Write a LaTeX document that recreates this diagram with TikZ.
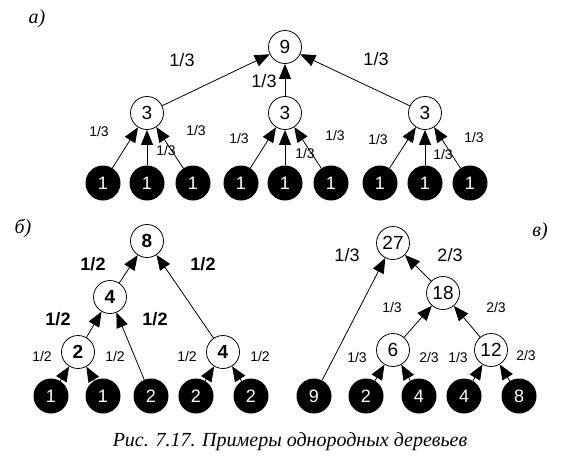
\documentclass[tikz,border=0pt]{standalone}
\usepackage{fontspec}
\setmainfont{Liberation Serif}
\setsansfont{Liberation Sans}
\usetikzlibrary{arrows.meta}

\begin{document}
\begin{tikzpicture}[x=1pt, y=-1pt, every node/.style={font=\sffamily},
 vert/.style={draw, circle, fill=white, minimum size=33pt, inner sep=0pt, line width=0.8pt, font=\sffamily\fontsize{19}{19}\selectfont},
 leaf/.style={circle, fill=black, text=white, minimum size=35pt, inner sep=0pt, font=\sffamily\fontsize{18}{18}\selectfont},
 arc/.style={-{Triangle[length=15pt,width=12pt]}, line width=0.8pt},
 big/.style={font=\sffamily\fontsize{18}{18}\selectfont},
 small/.style={font=\sffamily\fontsize{14}{14}\selectfont},
 tag/.style={font=\itshape\fontsize{20}{20}\selectfont}]
\useasboundingbox (0,0) rectangle (581,467);
% a)
\node[tag] (ta) at (37,19) {a)};
\node[vert] (a9) at (285,47) {9};
\node[vert] (a3l) at (147,113) {3};
\node[vert] (a3m) at (285,113) {3};
\node[vert] (a3r) at (425,113) {3};
\node[leaf] (a1) at (103,183) {1}; \node[leaf] (a2) at (147,183) {1}; \node[leaf] (a3) at (193,183) {1};
\node[leaf] (a4) at (241,183) {1}; \node[leaf] (a5) at (285,183) {1}; \node[leaf] (a6) at (331,183) {1};
\node[leaf] (a7) at (380,183) {1}; \node[leaf] (a8) at (425,183) {1}; \node[leaf] (a9l) at (470,183) {1};
\draw[arc] (a3l)--(a9); \draw[arc] (a3m)--(a9); \draw[arc] (a3r)--(a9);
\draw[arc] (a1)--(a3l); \draw[arc] (a2)--(a3l); \draw[arc] (a3)--(a3l);
\draw[arc] (a4)--(a3m); \draw[arc] (a5)--(a3m); \draw[arc] (a6)--(a3m);
\draw[arc] (a7)--(a3r); \draw[arc] (a8)--(a3r); \draw[arc] (a9l)--(a3r);
\node[big] (wa1) at (182,60) {1/3}; \node[big] (wa2) at (264,81) {1/3}; \node[big] (wa3) at (376,59) {1/3};
\node[small] (wa4) at (99,131) {1/3}; \node[small] (wa5) at (166,150) {1/3}; \node[small] (wa6) at (196,130) {1/3};
\node[small] (wa7) at (239,138) {1/3}; \node[small] (wa8) at (305,153) {1/3}; \node[small] (wa9) at (335,135) {1/3};
\node[small] (wa10) at (378,139) {1/3}; \node[small] (wa11) at (443,154) {1/3}; \node[small] (wa12) at (474,137) {1/3};
% b)
\node[tag] (tb) at (23,228) {б)};
\node[vert, font=\sffamily\bfseries\fontsize{19}{19}\selectfont] (b8) at (147,241) {8};
\node[vert, font=\sffamily\bfseries\fontsize{19}{19}\selectfont] (b4) at (110,297) {4};
\node[vert, font=\sffamily\bfseries\fontsize{19}{19}\selectfont] (b2) at (78,352) {2};
\node[vert, font=\sffamily\bfseries\fontsize{19}{19}\selectfont] (b4r) at (223,352) {4};
\node[leaf] (b1) at (51,396) {1}; \node[leaf] (b1r) at (103,396) {1}; \node[leaf] (b2a) at (151,396) {2};
\node[leaf] (b2b) at (196,396) {2}; \node[leaf] (b2c) at (251,396) {2};
\draw[arc] (b4)--(b8); \draw[arc] (b4r)--(b8); \draw[arc] (b2)--(b4); \draw[arc] (b2a)--(b4);
\draw[arc] (b1)--(b2); \draw[arc] (b1r)--(b2); \draw[arc] (b2b)--(b4r); \draw[arc] (b2c)--(b4r);
\node[big, font=\sffamily\bfseries\fontsize{18}{18}\selectfont] (wb1) at (93,264) {1/2};
\node[big, font=\sffamily\bfseries\fontsize{18}{18}\selectfont] (wb2) at (203,264) {1/2};
\node[big, font=\sffamily\bfseries\fontsize{18}{18}\selectfont] (wb3) at (58,319) {1/2};
\node[big, font=\sffamily\bfseries\fontsize{18}{18}\selectfont] (wb4) at (155,319) {1/2};
\node[small] (wb5) at (42,356) {1/2}; \node[small] (wb6) at (115,356) {1/2};
\node[small] (wb7) at (187,356) {1/2}; \node[small] (wb8) at (260,356) {1/2};
% v)
\node[tag] (tc) at (540,232) {в)};
\node[vert] (c27) at (393,243) {27};
\node[vert] (c18) at (443,293) {18};
\node[vert] (c6) at (393,350) {6};
\node[vert] (c12) at (491,350) {12};
\node[leaf] (c9) at (314,396) {9}; \node[leaf] (c2) at (366,396) {2}; \node[leaf] (c4) at (419,396) {4};
\node[leaf] (c4r) at (464,396) {4}; \node[leaf] (c8) at (519,396) {8};
\draw[arc] (c9)--(c27); \draw[arc] (c18)--(c27); \draw[arc] (c6)--(c18); \draw[arc] (c12)--(c18);
\draw[arc] (c2)--(c6); \draw[arc] (c4)--(c6); \draw[arc] (c4r)--(c12); \draw[arc] (c8)--(c12);
\node[big] (wc1) at (347,255) {1/3}; \node[big] (wc2) at (450,255) {2/3};
\node[small] (wc3) at (392,307) {1/3}; \node[small] (wc4) at (496,307) {2/3};
\node[small] (wc5) at (357,357) {1/3}; \node[small] (wc6) at (429,357) {2/3};
\node[small] (wc7) at (458,357) {1/3}; \node[small] (wc8) at (526,355) {2/3};
% caption
\node[tag] (cap) at (290,442) {Рис. 7.17. Примеры однородных деревьев};
\end{tikzpicture}
\end{document}
